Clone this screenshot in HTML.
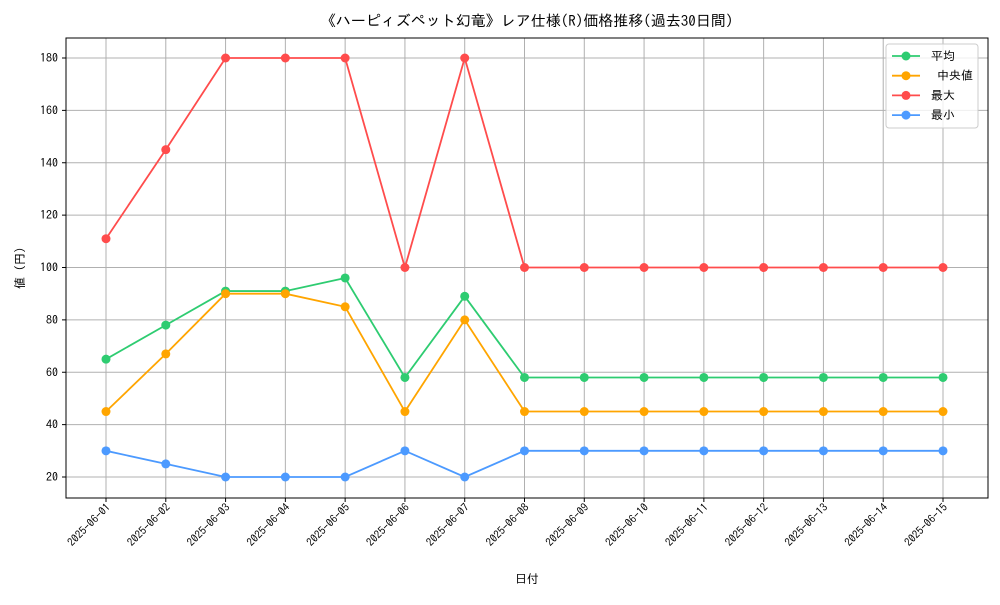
<!DOCTYPE html>
<html><head><meta charset="utf-8"><style>
body{margin:0;background:#fff;}
svg text{font-family:"IPAGothic","Noto Sans CJK JP",sans-serif;fill:#000;}
</style></head><body>
<svg id="chart" width="1000" height="600" xmlns="http://www.w3.org/2000/svg">
<text x="527" y="26" font-size="15" text-anchor="middle">《ハーピィズペット幻竜》レア仕様(R)価格推移(過去30日間)</text>
<g id="grid"></g>
<rect x="66" y="38" width="922" height="460" fill="none" stroke="#000" stroke-width="1"/>
<g id="yticks"></g><g id="xticks"></g><g id="series"></g>
<text x="527" y="583" font-size="12" text-anchor="middle">日付</text>
<text transform="translate(24,268) rotate(-90)" font-size="12" text-anchor="middle">値 (円)</text>
<g id="legend"></g>
</svg>
<script>
const categories=["2025-06-01","2025-06-02","2025-06-03","2025-06-04","2025-06-05","2025-06-06","2025-06-07","2025-06-08","2025-06-09","2025-06-10","2025-06-11","2025-06-12","2025-06-13","2025-06-14","2025-06-15"];
const avgValues=[65,78,91,91,96,58,89,58,58,58,58,58,58,58,58];
const medianValues=[45,67,90,90,85,45,80,45,45,45,45,45,45,45,45];
const maxValues=[111,145,180,180,180,100,180,100,100,100,100,100,100,100,100];
const minValues=[30,25,20,20,20,30,20,30,30,30,30,30,30,30,30];
const yTicks=[20,40,60,80,100,120,140,160,180];
const seriesNames=["平均"," 中央値","最大","最小"];
const NS="http://www.w3.org/2000/svg";
function mk(t,a,p){const e=document.createElementNS(NS,t);for(const k in a)e.setAttribute(k,a[k]);p.appendChild(e);return e;}
const x=i=>106+i*(943-106)/(categories.length-1);
const y=v=>477-(v-20)*(477-58)/160;
const grid=document.getElementById('grid'),yt=document.getElementById('yticks'),xt=document.getElementById('xticks');
yTicks.forEach(v=>{
 const l=mk('line',{x1:66,x2:988,y1:y(v),y2:y(v),stroke:'#b0b0b0','stroke-width':1},grid);
 
 
 mk('line',{x1:62,x2:66,y1:y(v),y2:y(v),stroke:'#000'},yt);
 const t=mk('text',{x:58,y:y(v)+4,'font-size':12,'text-anchor':'end'},yt);t.textContent=v;
 
 
});
categories.forEach((c,i)=>{
 const l=mk('line',{x1:x(i),x2:x(i),y1:38,y2:498,stroke:'#b0b0b0','stroke-width':1},grid);
 
 
 mk('line',{x1:x(i),x2:x(i),y1:498,y2:502,stroke:'#000'},xt);
 const t=mk('text',{x:x(i)+5,y:508,'font-size':11,'text-anchor':'end',transform:`rotate(-45 ${x(i)+5} 508)`},xt);t.textContent=c;
 
 
});
const series=[[avgValues,'#2ecc71','avg'],[medianValues,'#ffa500','median'],[maxValues,'#ff4c4c','max'],[minValues,'#4c9aff','min']];
const sg=document.getElementById('series');
series.forEach(([vals,col,nm])=>{
 const g=mk('g',{},sg);
 
 
 const pl=mk('polyline',{points:vals.map((v,i)=>x(i)+','+y(v)).join(' '),fill:'none',stroke:col,'stroke-width':1.8},g);
 
 
 vals.forEach((v,i)=>{const c=mk('circle',{cx:x(i),cy:y(v),r:4.5,fill:col},g);
  
  });
});
const lg=document.getElementById('legend');
mk('rect',{x:886,y:44,width:92,height:84,rx:3,fill:'#fff','fill-opacity':0.8,stroke:'#ccc'},lg);
series.forEach(([v,col,nm],i)=>{
 const yy=56+i*19.7;
 const g=mk('g',{},lg);
 
 
 mk('line',{x1:892,x2:920,y1:yy,y2:yy,stroke:col,'stroke-width':1.8},g);
 mk('circle',{cx:906,cy:yy,r:4.5,fill:col},g);
 const t=mk('text',{x:931,y:yy+4,'font-size':12,'xml:space':'preserve'},g);t.textContent=seriesNames[i];
 t.style.whiteSpace='pre';
});
</script>
</body></html>
